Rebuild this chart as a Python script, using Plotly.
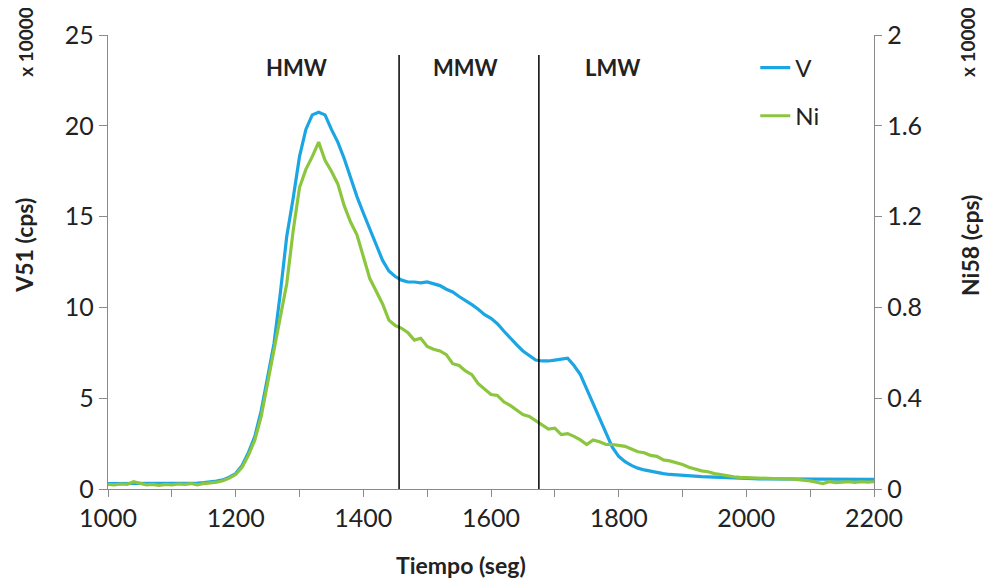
import plotly.graph_objects as go

# Time axis (s)
tiempo = list(range(1000, 2201, 10))

# V51 signal (cps, x 10000) - left axis
v51 = [
    0.30, 0.30, 0.30, 0.30, 0.30, 0.30, 0.30, 0.30, 0.30, 0.30,
    0.30, 0.30, 0.31, 0.32, 0.33, 0.35, 0.38, 0.43, 0.50, 0.65,
    0.85, 1.30, 2.00, 2.90, 4.30, 6.10, 8.00, 10.8, 13.9, 16.0,
    18.3, 19.8, 20.6, 20.75, 20.6, 19.8, 19.1, 18.2, 17.1, 16.1,
    15.2, 14.3, 13.4, 12.6, 12.0, 11.7, 11.5, 11.4, 11.4, 11.35,
    11.4, 11.3, 11.2, 11.0, 10.85, 10.6, 10.4, 10.15, 9.9, 9.6,
    9.4, 9.1, 8.7, 8.3, 7.95, 7.6, 7.35, 7.1, 7.05, 7.05,
    7.1, 7.15, 7.2, 6.8, 6.3, 5.5, 4.7, 3.8, 3.0, 2.3,
    1.8, 1.5, 1.3, 1.15, 1.05, 0.97, 0.90, 0.85, 0.80, 0.77,
    0.74, 0.72, 0.70, 0.68, 0.67, 0.65, 0.63, 0.62, 0.60, 0.59,
    0.58, 0.57, 0.56, 0.56, 0.55, 0.55, 0.54, 0.54, 0.54, 0.53,
    0.53, 0.53, 0.53, 0.53, 0.53, 0.53, 0.53, 0.53, 0.53, 0.53,
    0.53,
]

# Ni58 signal (cps, x 10000) - right axis
ni58 = [
    0.020, 0.018, 0.022, 0.020, 0.032, 0.024, 0.018, 0.020, 0.016, 0.020,
    0.018, 0.022, 0.020, 0.024, 0.018, 0.024, 0.026, 0.030, 0.036, 0.048,
    0.064, 0.096, 0.148, 0.216, 0.320, 0.464, 0.620, 0.768, 0.904, 1.136,
    1.328, 1.408, 1.464, 1.528, 1.448, 1.400, 1.344, 1.248, 1.176, 1.120,
    1.024, 0.928, 0.872, 0.816, 0.744, 0.720, 0.708, 0.688, 0.656, 0.664,
    0.628, 0.616, 0.608, 0.592, 0.552, 0.544, 0.520, 0.504, 0.464, 0.440,
    0.416, 0.412, 0.384, 0.368, 0.348, 0.328, 0.320, 0.300, 0.280, 0.264,
    0.268, 0.240, 0.244, 0.232, 0.216, 0.196, 0.216, 0.208, 0.196, 0.196,
    0.192, 0.188, 0.176, 0.164, 0.160, 0.148, 0.144, 0.128, 0.124, 0.116,
    0.108, 0.096, 0.088, 0.080, 0.076, 0.068, 0.064, 0.058, 0.054, 0.051,
    0.050, 0.048, 0.046, 0.048, 0.046, 0.046, 0.044, 0.045, 0.042, 0.040,
    0.036, 0.030, 0.024, 0.032, 0.028, 0.030, 0.032, 0.029, 0.032, 0.030,
    0.032,
]

# Fraction boundaries (s) and region labels
limites = [1456, 1675]
regiones = ["HMW", "MMW", "LMW"]
regiones_x = [1295, 1560, 1790]

FONT = "Lato, 'Open Sans', sans-serif"
AXIS_COLOR = "#8a8a8a"
TEXT_COLOR = "#222222"

fig = go.Figure()
fig.add_trace(go.Scatter(x=tiempo, y=v51, name="V", mode="lines",
                         line=dict(color="#1ba6e3", width=3.2),
                         legendgroup="v"))
fig.add_trace(go.Scatter(x=tiempo, y=ni58, name="Ni", mode="lines",
                         line=dict(color="#8cc63f", width=3.2),
                         yaxis="y2", legendgroup="ni"))

for xb in limites:
    fig.add_shape(type="line", xref="x", yref="y", x0=xb, x1=xb, y0=0, y1=23.9,
                  line=dict(color="black", width=1.5))

for lab, xl in zip(regiones, regiones_x):
    fig.add_annotation(x=xl, y=23.2, xref="x", yref="y", text=f"<b>{lab}</b>",
                       showarrow=False, xanchor="center", yanchor="middle",
                       font=dict(size=22, color=TEXT_COLOR, family=FONT))

# Axis titles
def title(x, y, text, size, xref="paper", angle=0):
    fig.add_annotation(x=x, y=y, xref=xref, yref="paper", text=f"<b>{text}</b>",
                       textangle=angle, showarrow=False,
                       xanchor="center", yanchor="middle",
                       font=dict(size=size, color=TEXT_COLOR, family=FONT))

title(1553, -0.168, "Tiempo (seg)", 23, xref="x")
title(-0.109, 0.537, "V51 (cps)", 23, angle=-90)
title(-0.107, 0.985, "x 10000", 19, angle=-90)
title(1.125, 0.537, "Ni58 (cps)", 23, angle=-90)
title(1.123, 0.985, "x 10000", 19, angle=-90)

fig.update_layout(
    width=992, height=583,
    margin=dict(l=100, r=126, t=27, b=102),
    paper_bgcolor="white", plot_bgcolor="white",
    font=dict(family=FONT, size=25, color=TEXT_COLOR),
    showlegend=True,
    legend=dict(x=0.845, y=0.977, xanchor="left", yanchor="top",
                bgcolor="rgba(0,0,0,0)", tracegroupgap=14,
                font=dict(size=24, color=TEXT_COLOR, family=FONT),
                itemwidth=30),
    xaxis=dict(range=[1000, 2200], dtick=200, tick0=1000,
               showline=True, linecolor=AXIS_COLOR, linewidth=1.3,
               ticks="outside", ticklen=7, tickcolor=AXIS_COLOR,
               showgrid=False, zeroline=False,
               minor=dict(dtick=100, ticks="outside", ticklen=7, tickcolor=AXIS_COLOR),
               tickfont=dict(size=25, color=TEXT_COLOR, family=FONT)),
    yaxis=dict(range=[0, 25], dtick=5,
               showline=True, linecolor=AXIS_COLOR, linewidth=1.3,
               ticks="outside", ticklen=8, tickcolor=AXIS_COLOR,
               showgrid=False, zeroline=False,
               tickfont=dict(size=25, color=TEXT_COLOR, family=FONT)),
    yaxis2=dict(range=[0, 2], dtick=0.4, overlaying="y", side="right",
                showline=True, linecolor=AXIS_COLOR, linewidth=1.3,
                ticks="outside", ticklen=7, tickcolor=AXIS_COLOR,
                showgrid=False, zeroline=False,
                tickfont=dict(size=25, color=TEXT_COLOR, family=FONT)),
)

fig.write_html("out.html")
